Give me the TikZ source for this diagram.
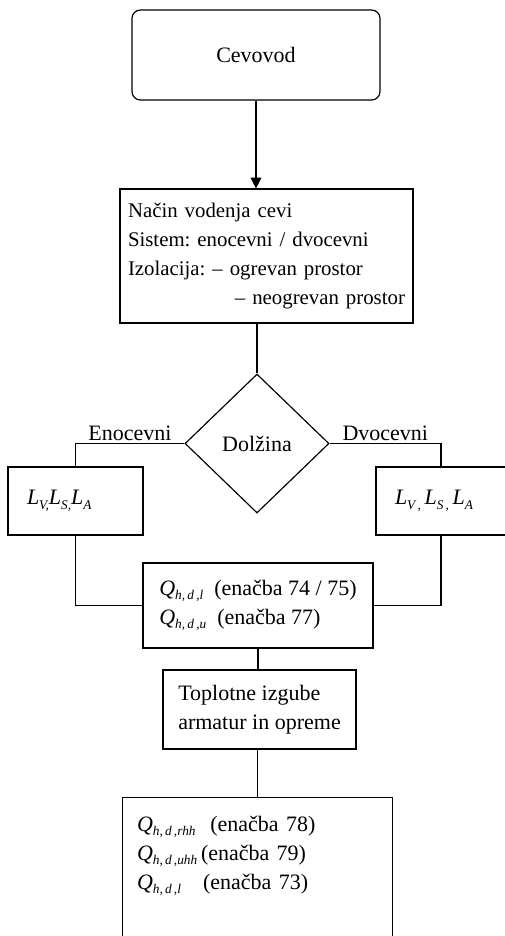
\documentclass[tikz,border=0pt]{standalone}
\usepackage{fontspec}
\setmainfont{Liberation Serif}
\usetikzlibrary{shapes.geometric,arrows.meta}
\frenchspacing

% italic symbol with a small lowered index
\newcommand{\symidx}[2]{\textit{#1}\raisebox{-0.45ex}{\fontsize{8}{8}\selectfont\textit{#2}}}

\begin{document}
\begin{tikzpicture}[x=0.6pt,y=-0.6pt,
    every node/.style={font=\fontsize{13.2}{17.4}\selectfont},
    box/.style={draw,line width=0.7pt,align=left,inner ysep=0pt},
    start/.style={box,rounded corners=5pt,align=center},
    decision/.style={draw,line width=0.7pt,diamond,inner sep=0pt,
      minimum width=86.4pt,minimum height=83.4pt},
    link/.style={line width=0.7pt},
    arrow/.style={link,-{Triangle[length=6.5pt,width=6.5pt]}},
    branch/.style={above,inner sep=1.5pt}]

  \useasboundingbox (0,0) rectangle (505,936);

  % --- the start and the way the pipes are laid ---
  \node[start,minimum width=148.8pt,minimum height=54pt] (cevovod) at (256,55) {Cevovod};
  \node[box,font=\fontsize{12.5}{17.4}\selectfont,text width=166.2pt,inner xsep=4.8pt,
        minimum height=80.4pt] (nacin) at (266.5,256)
    {Način vodenja cevi\\Sistem: enocevni / dvocevni\\Izolacija: \textendash\ ogrevan prostor\\
     \hfill\mbox{\textendash\ neogrevan prostor}\hspace*{8pt}};

  % --- the decision on the length ---
  \node[decision] (dolzina) at (257,443.5) {Dolžina};

  % --- the two branches ---
  \node[box,text width=58.2pt,inner xsep=11.4pt,minimum height=40.8pt] (lbox) at (75.5,501)
    {\symidx{L}{V,}\symidx{L}{S,}\symidx{L}{A}};
  \node[box,text width=55.2pt,inner xsep=11.4pt,minimum height=40.8pt] (rbox) at (441,501)
    {\symidx{L}{V\,,}\,\symidx{L}{S\,,}\,\symidx{L}{A}};

  % --- losses of the pipes ---
  \node[box,minimum width=138pt,minimum height=51pt] (qbox) at (258,605.5)
    {\symidx{Q}{h,\,d\,,l}\ \ (enačba 74 / 75)\\\symidx{Q}{h,\,d\,,u}\ \ (enačba 77)};
  \node[box,minimum width=115.8pt,minimum height=47.4pt] (toplotne) at (259.5,709.5)
    {Toplotne izgube\\armatur in opreme};

  % --- the results, the box runs on past the bottom ---
  \node[box,draw=none,text width=144.6pt,inner xsep=8.4pt,minimum height=69.6pt] (results) at (257.5,856)
    {\symidx{Q}{h,\,d\,,rhh}\ \ (enačba 78)\\\symidx{Q}{h,\,d\,,uhh}\,(enačba 79)\\\symidx{Q}{h,\,d\,,l}\ \ \ (enačba 73)};

  % --- connectors ---
  \draw[arrow] (cevovod.south) -- (cevovod.south |- nacin.north);
  \draw[link] (nacin.south -| dolzina.north) -- (dolzina.north);
  \draw[link] (dolzina.west) -| node[branch,pos=0.25] {Enocevni} (lbox.north);
  \draw[link] (dolzina.east) -| node[branch,pos=0.25] {Dvocevni} (rbox.north);
  \draw[link] (lbox.south) |- (qbox.west);
  \draw[link] (rbox.south) |- (qbox.east);
  \draw[link] (qbox.south) -- (qbox.south |- toplotne.north);
  \draw[link] (toplotne.south -| results.north) -- (results.north);
  \draw[link] (results.north west) ++(0,140) -- (results.north west)
    -- (results.north east) -- ++(0,140);
\end{tikzpicture}
\end{document}
